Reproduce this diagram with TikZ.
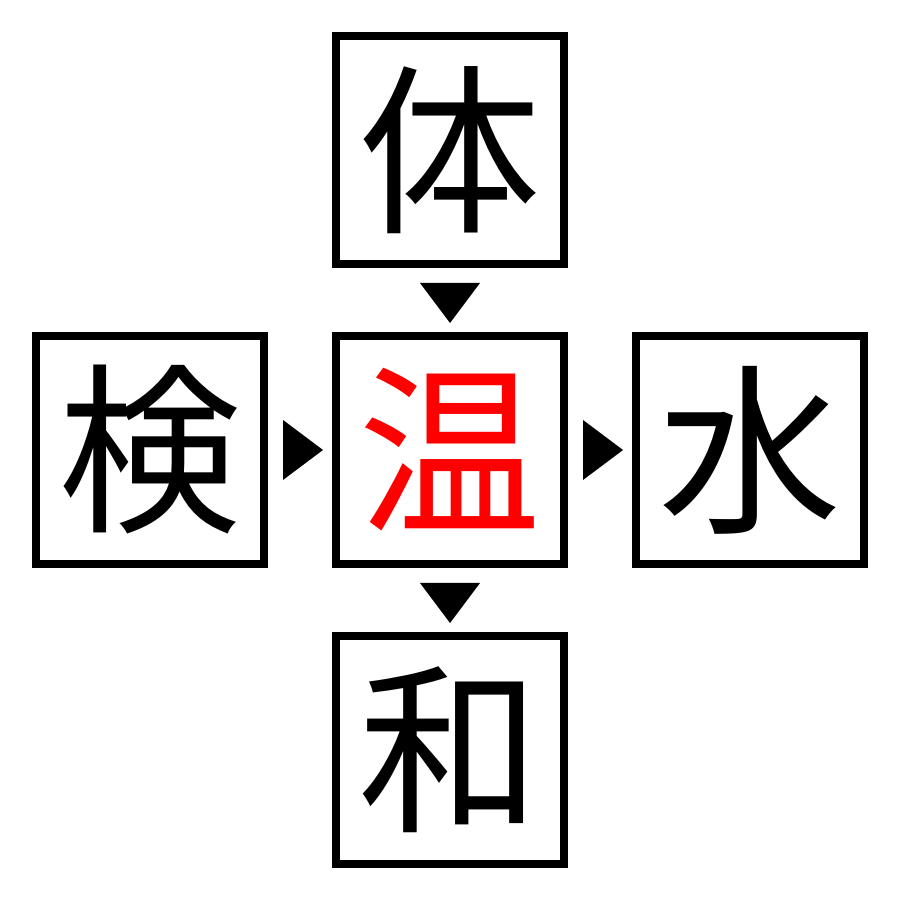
\documentclass[tikz,border=0pt]{standalone}
\usepackage{fontspec}
\usetikzlibrary{calc}
\newfontfamily\cjk{Noto Sans CJK JP}
\begin{document}
\begin{tikzpicture}[x=1cm,y=1cm,
  kbox/.style={draw=black,line width=0.08cm,minimum size=2.28cm,inner sep=0pt,font=\cjk\fontsize{52}{52}\selectfont},
  tri/.style={fill=black}]
\useasboundingbox (0,0) rectangle (9,9);
\node[kbox] (top) at (4.5,7.5) {体};
\node[kbox,text=red] (mid) at (4.5,4.5) {温};
\node[kbox] (left) at (1.5,4.5) {検};
\node[kbox] (right) at (7.5,4.5) {水};
\node[kbox] (bot) at (4.5,1.5) {和};
\fill[tri] ($(top.south)+(-0.3,-0.15)$) -- ($(top.south)+(0.3,-0.15)$) -- ($(top.south)+(0,-0.55)$) -- cycle;
\fill[tri] ($(mid.south)+(-0.3,-0.15)$) -- ($(mid.south)+(0.3,-0.15)$) -- ($(mid.south)+(0,-0.55)$) -- cycle;
\fill[tri] ($(left.east)+(0.15,0.3)$) -- ($(left.east)+(0.15,-0.3)$) -- ($(left.east)+(0.55,0)$) -- cycle;
\fill[tri] ($(mid.east)+(0.15,0.3)$) -- ($(mid.east)+(0.15,-0.3)$) -- ($(mid.east)+(0.55,0)$) -- cycle;
\end{tikzpicture}
\end{document}
